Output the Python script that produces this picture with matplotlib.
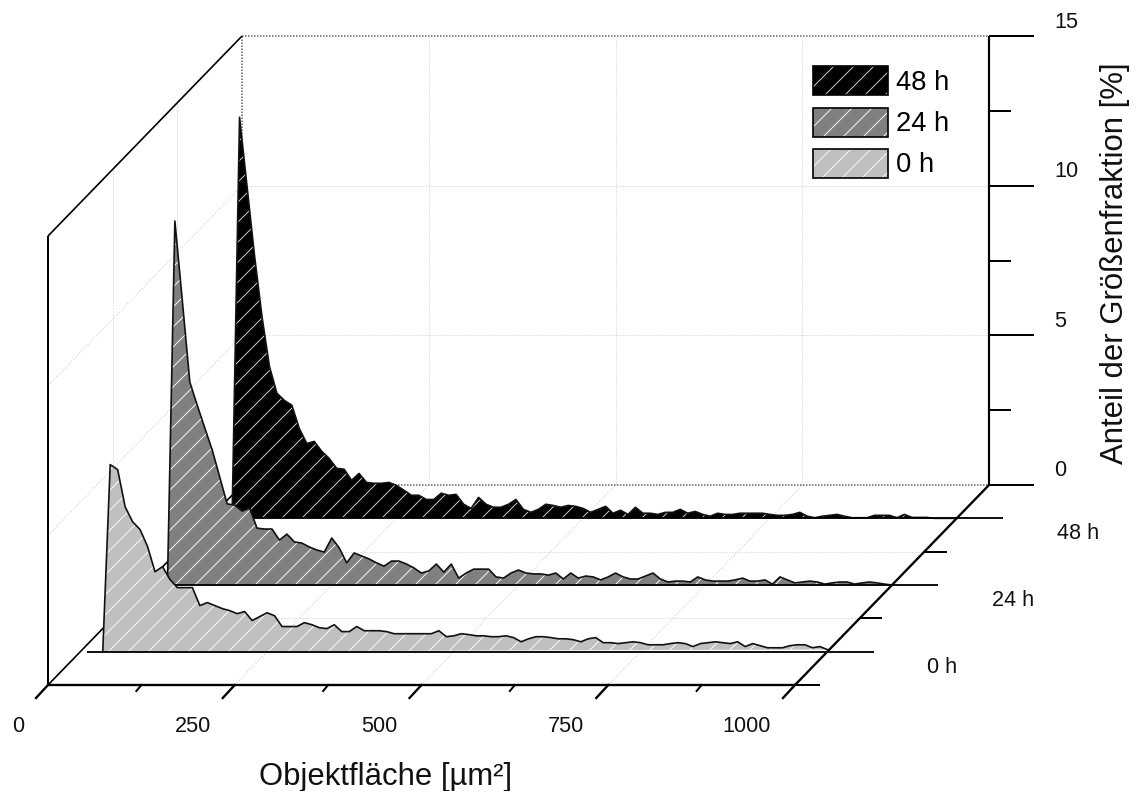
import numpy as np
import matplotlib
matplotlib.use('Agg')
import matplotlib.pyplot as plt
from matplotlib.patches import Patch
from matplotlib.legend_handler import HandlerTuple

plt.rcParams['font.family'] = ['Liberation Sans', 'DejaVu Sans']
plt.rcParams['hatch.linewidth'] = 0.55

# Objektflaeche in 10er Schritten
area = np.arange(30, 1001, 10)

h48 = [0, 13.4, 11.1, 8.79, 6.75, 5.08, 4.18, 3.94, 3.78, 3.0, 2.5, 2.57, 2.24, 2.0, 1.67, 1.64, 1.27, 1.5, 1.2, 1.17,
       1.17, 1.2, 1.1, .94, .77, .77, .63, .63, .84, .77, .8, .47, .33, .7, .47, .37, .37, .47, .63, .3,
       .2, .3, .47, .43, .37, .43, .4, .33, .2, .3, .4, .17, .27, .13, .37, .17, .17, .13, .2, .2,
       .3, .17, .23, .13, .07, .17, .13, .13, .17, .17, .17, .17, .13, .1, .1, .13, .2, .07, .02, .07,
       .1, .13, .07, .02, .02, .02, .1, .1, .1, .02, .13, .03, .03, .03, 0, 0, 0, 0]
h24 = [0, 12.16, 9.49, 6.78, 6.0, 5.25, 4.51, 3.61, 2.71, 2.67, 2.47, 2.57, 1.9, 1.87, 1.87, 1.5, 1.7, 1.44, 1.4, 1.27,
       1.17, 1.1, 1.57, 1.24, .74, 1.07, .97, .87, .74, .63, .8, .8, .7, .57, .4, .47, .7, .43, .7, .23,
       .4, .53, .53, .53, .27, .23, .4, .5, .4, .37, .37, .33, .4, .2, .4, .23, .3, .27, .17, .27,
       .4, .27, .2, .2, .3, .4, .2, .1, .13, .13, .1, .27, .17, .13, .13, .13, .17, .23, .13, .13,
       .17, .03, .27, .17, .07, .1, .13, .1, .03, .07, .1, .1, .03, .07, .1, .07, .03, 0]
h0 = [0, 6.25, 6.08, 4.84, 4.34, 4.08, 3.51, 2.67, 2.84, 2.41, 2.14, 2.14, 2.14, 1.54, 1.64, 1.54, 1.44, 1.37, 1.27, 1.34,
      1.04, 1.17, 1.3, 1.2, .84, .84, .84, .97, .9, .8, .77, .9, .67, .67, .84, .7, .7, .7, .67, .6,
      .6, .6, .6, .6, .6, .7, .5, .53, .6, .57, .53, .53, .5, .5, .53, .47, .33, .43, .5, .5,
      .47, .43, .43, .4, .33, .43, .47, .3, .3, .27, .3, .33, .3, .23, .23, .23, .27, .3, .27, .17,
      .27, .3, .33, .3, .27, .33, .17, .27, .2, .13, .13, .13, .2, .23, .23, .13, .17, .07]

series_labels = ['48 h', '24 h', '0 h']
series_values = [h48, h24, h0]
series_depth = [5 / 6, 3 / 6, 1 / 6]
series_colors = ['#000000', '#808080', '#c0c0c0']

x_ticks = [0, 250, 500, 750, 1000]
x_minor = [125, 375, 625, 875]
z_ticks = [0, 5, 10, 15]
z_minor = [2.5, 7.5, 12.5]


# schraege Projektion: Flaeche, Anteil, Tiefe -> Pixel
def proj(x, z, d):
    x = np.asarray(x, dtype=float)
    z = np.asarray(z, dtype=float)
    return 48 + 0.747 * x + 194 * d, 685 - 29.93 * z - 200 * d


def line3(x, z, d, **kw):
    kw.setdefault('color', 'black')
    kw.setdefault('lw', 1.2)
    kw.setdefault('solid_capstyle', 'butt')
    px, py = proj(x, z, np.asarray(d, dtype=float))
    ax.plot(px, py, **kw)


fig = plt.figure(figsize=(1136 / 120, 791 / 120), dpi=120)
ax = fig.add_axes([0, 0, 1, 1])
ax.set_xlim(0, 1136)
ax.set_ylim(791, 0)
ax.axis('off')

grid = dict(color='#c8c8c8', lw=0.6, ls=(0, (1, 2)), zorder=1)
edge = dict(color='#606060', lw=0.9, ls=(0, (1, 1)), zorder=1)

# Gitter auf Rueckwand, Seitenwand und Boden
for xt in x_ticks[1:-1]:
    line3([xt, xt], [0, 15], [1, 1], **grid)
    line3([xt, xt], [0, 0], [0, 1], **grid)
for zt in [5, 10]:
    line3([0, 1000], [zt, zt], [1, 1], **grid)
    line3([0, 0], [zt, zt], [0, 1], **grid)
for d in [2 / 6, 4 / 6]:
    line3([0, 0], [0, 15], [d, d], **grid)
    line3([0, 1000], [0, 0], [d, d], **grid)

line3([0, 0], [0, 15], [1, 1], **edge)
line3([0, 1000], [15, 15], [1, 1], **edge)
line3([0, 1000], [0, 0], [1, 1], **edge)

# Achsen
line3([0, 0], [0, 15], [0, 0], zorder=2)
line3([0, 0], [15, 15], [0, 1], lw=1.0, zorder=2)
line3([0, 0], [0, 0], [0, 1], lw=1.0, zorder=2)
line3([1000, 1000], [0, 15], [1, 1], lw=1.3, zorder=2)
line3([0, 1000], [0, 0], [0, 0], lw=1.4, zorder=2)
line3([1000, 1000], [0, 0], [0, 1], lw=1.4, zorder=8)
line3([1000, 1034], [0, 0], [0, 0], zorder=2)

for zt in z_ticks:
    line3([1000, 1060], [zt, zt], [1, 1], zorder=2)
    px, py = proj(1000, zt, 1)
    ax.text(1054, py - 14, str(zt), fontsize=13, ha='left', va='center', color='#111111')
for zt in z_minor:
    line3([1000, 1030], [zt, zt], [1, 1], zorder=2)

for xt in x_ticks:
    px, py = proj(xt, 0, 0)
    ax.plot([px, px - 12], [py, py + 13], color='black', lw=1.4, zorder=8)
    ax.text(px - 24, 726, str(xt), fontsize=13, ha='right', va='center', color='#111111')
for xt in x_minor:
    px, py = proj(xt, 0, 0)
    ax.plot([px, px - 5], [py, py + 6], color='black', lw=1.2, zorder=2)

for d in [2 / 6, 4 / 6]:
    line3([1000, 1030], [0, 0], [d, d], zorder=2)

# Kurven, von hinten nach vorne
handles = []
for k, (name, vals, d, col) in enumerate(zip(series_labels, series_values, series_depth, series_colors)):
    px, py = proj(area, vals, d)
    z = 3 + k
    hatch_col = '#d8d8d8' if col == '#000000' else 'white'
    ax.fill(px, py, facecolor=col, edgecolor=hatch_col, hatch='//', lw=0, zorder=z)
    ax.plot(px, py, color='#111111', lw=1.0, zorder=z)
    start = 9 if name == '0 h' else area[0]
    line3([start, 1062], [0, 0], [d, d], lw=1.1, zorder=z)
    bx, by = proj(1000, 0, d)
    ax.text(bx + 100, by + 15.5, name, fontsize=13, ha='left', va='center', color='#111111')
    handles.append((Patch(facecolor=col, edgecolor=hatch_col, hatch='//', lw=0),
                    Patch(facecolor='none', edgecolor='black', lw=1.0)))

ax.legend(handles, series_labels, handler_map={tuple: HandlerTuple(ndivide=1, pad=0)},
          loc='upper left', bbox_to_anchor=(802 / 1136, 1 - 55 / 791), frameon=False,
          fontsize=16.4, handlelength=2.72, handleheight=1.25, handletextpad=0.3,
          labelspacing=0.42, borderpad=0.42, borderaxespad=0)

ax.text(386, 777, 'Objektfläche [µm²]', fontsize=18.6, ha='center', va='center', color='#111111')
ax.text(1115, 263, 'Anteil der Größenfraktion [%]', fontsize=18.7, rotation=90, ha='center', va='center', color='#111111')

fig.savefig('out.png', dpi=120)
